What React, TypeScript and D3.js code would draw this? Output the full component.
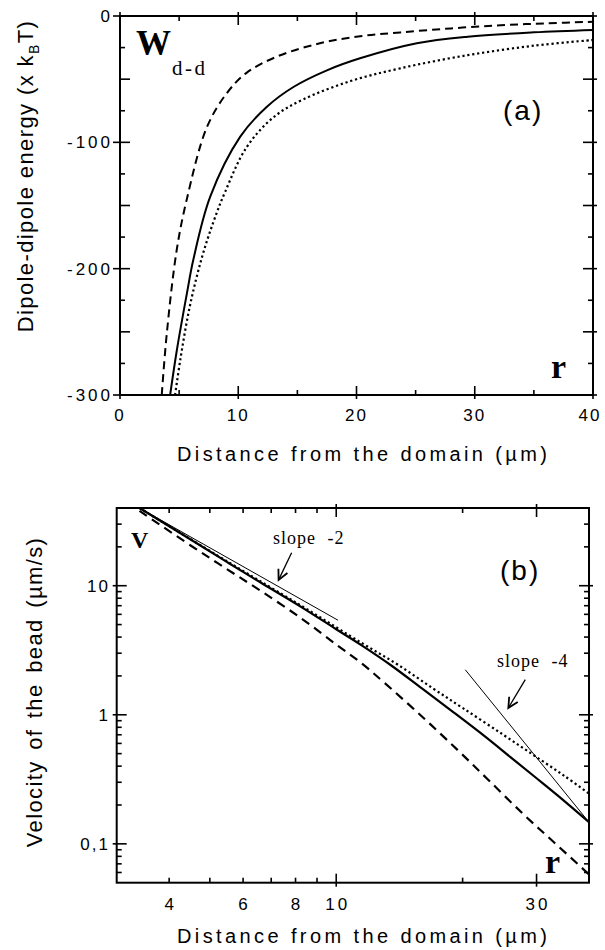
import React from 'react';
import * as d3 from 'd3';

// ---------- Panel (a): dipole-dipole energy vs distance ----------
const aXTicks = [0, 10, 20, 30, 40];
const aXMinor = [5, 15, 25, 35];
const aYTicks = [0, -100, -200, -300];
const aYTickLabels = ['0', '-100', '-200', '-300'];

const aSolidR = [4.24, 4.8, 5.65, 6.2, 7.63, 10.17, 12.4, 14.7, 17.5, 20.3, 25.1, 29.4, 35, 40];
const aSolidW = [-300, -265, -220, -193, -143, -95.5, -72, -56, -43, -33.5, -21.6, -16.4, -12.9, -11];

const aDashR = [3.53, 3.96, 4.8, 5.65, 7.35, 9.04, 10.7, 13.3, 16.9, 20.3, 23.7, 28, 32.2, 36, 40];
const aDashW = [-300, -251, -185, -145, -88, -61, -45, -32, -21.6, -16, -13, -9.8, -7.3, -5.8, -4.6];

const aDotR = [4.66, 5.1, 5.9, 6.9, 7.9, 8.9, 10.7, 13, 15.5, 19.5, 23.7, 29.4, 35, 40];
const aDotW = [-300, -272, -230, -192, -163, -139, -104, -80, -66, -51.5, -41.4, -31, -23.5, -19];

// ---------- Panel (b): velocity of the bead (log-log) ----------
const bXLabels = [4, 6, 8, 10, 30];
const bXMajor = [10, 30];
const bXMinor = [4, 5, 6, 7, 8, 9, 20];
const bYMajor = [0.1, 1, 10];
const bYLabels = ['0,1', '1', '10'];

const bSolidX = [3.4, 4.5, 5.54, 6.65, 8.28, 10, 11.5, 13.5, 16, 19, 22.6, 26, 29.8, 34, 40];
const bSolidV = [40, 22.8, 15, 10.45, 6.8, 4.6, 3.45, 2.42, 1.6, 1.05, 0.68, 0.47, 0.328, 0.231, 0.147];

const bDotX = [3.4, 5.54, 8.28, 11.5, 14, 17, 20, 25, 30, 35, 40];
const bDotV = [40, 15.2, 6.95, 3.6, 2.45, 1.6, 1.13, 0.7, 0.47, 0.335, 0.245];

const bDashX = [3.4, 4.5, 5.5, 6.65, 8.28, 10, 11.5, 13, 16, 19.5, 23.1, 28, 33, 40];
const bDashV = [38, 20.5, 13.4, 9.0, 5.55, 3.5, 2.5, 1.78, 0.97, 0.53, 0.31, 0.168, 0.103, 0.058];

const slope2X = [3.4, 10.1];
const slope2V = [40, 5.4];
const slope4X = [20.3, 40];
const slope4V = [2.23, 0.147];

const arrow2X = [7.83, 7.29];
const arrow2V = [18.0, 11.1];
const arrow4X = [28.2, 25.7];
const arrow4V = [1.87, 1.13];

const SANS = "'Liberation Sans', Arial, Helvetica, sans-serif";
const SERIF = "'Liberation Serif', 'Times New Roman', serif";

export default function App() {
  const ax = d3.scaleLinear().domain([0, 40]).range([120, 593]);
  const ay = d3.scaleLinear().domain([-300, 0]).range([395, 16]);
  const bx = d3.scaleLog().domain([3, 40]).range([116.7, 589]);
  const by = d3.scaleLog().domain([0.05, 40]).range([882.7, 508]);

  const aLine = d3
    .line<[number, number]>()
    .x((d) => ax(d[0]))
    .y((d) => ay(d[1]))
    .curve(d3.curveCatmullRom.alpha(0.5));
  const bLine = d3
    .line<[number, number]>()
    .x((d) => bx(d[0]))
    .y((d) => by(d[1]))
    .curve(d3.curveCatmullRom.alpha(0.5));
  const bStraight = d3
    .line<[number, number]>()
    .x((d) => bx(d[0]))
    .y((d) => by(d[1]));

  const zip = (xs: number[], ys: number[]) => xs.map((x, i) => [x, ys[i]] as [number, number]);

  const aL = 120, aR = 593, aT = 16, aB = 395;
  const bL = 116.7, bR = 589, bT = 508, bB = 882.7;

  const aYAll = d3.range(0, -301, -25);
  const bYMinor: number[] = [];
  [0.01, 0.1, 1, 10].forEach((d) => {
    for (let k = 2; k <= 9; k++) {
      const v = k * d;
      if (v > 0.05 && v < 40) bYMinor.push(v);
    }
  });

  const tick = { stroke: '#000', strokeWidth: 1.6 };

  return (
    <svg
      width={605}
      height={950}
      style={{ position: 'absolute', left: 0, top: 0, background: '#fff' }}
    >
      <defs>
        <clipPath id="clipA">
          <rect x={aL} y={aT} width={aR - aL} height={aB - aT} />
        </clipPath>
        <clipPath id="clipB">
          <rect x={bL} y={bT} width={bR - bL} height={bB - bT} />
        </clipPath>
        <marker
          id="arr"
          viewBox="-12 -7 14 14"
          refX={0}
          refY={0}
          markerWidth={14}
          markerHeight={14}
          markerUnits="userSpaceOnUse"
          orient="auto"
        >
          <path d="M-10,-5 L0,0 L-10,5" fill="none" stroke="#000" strokeWidth={1.8} />
        </marker>
      </defs>
      <rect x={0} y={0} width={605} height={950} fill="#fff" />

      {/* ================= Panel (a) ================= */}
      <g>
        <g clipPath="url(#clipA)" fill="none" stroke="#000">
          <path d={aLine(zip(aSolidR, aSolidW)) || ''} strokeWidth={2} />
          <path d={aLine(zip(aDashR, aDashW)) || ''} strokeWidth={2} strokeDasharray="8,5" />
          <path d={aLine(zip(aDotR, aDotW)) || ''} strokeWidth={2.2} strokeDasharray="2.2,2.8" />
        </g>
        <rect x={aL} y={aT} width={aR - aL} height={aB - aT} fill="none" stroke="#000" strokeWidth={2} />
        {aXTicks.map((t) => (
          <g key={'axt' + t}>
            <line x1={ax(t)} x2={ax(t)} y1={aB - 9} y2={aB + 4} {...tick} />
            <line x1={ax(t)} x2={ax(t)} y1={aT - 4} y2={aT + 9} {...tick} />
          </g>
        ))}
        {aXMinor.map((t) => (
          <g key={'axm' + t}>
            <line x1={ax(t)} x2={ax(t)} y1={aB - 5} y2={aB} {...tick} />
            <line x1={ax(t)} x2={ax(t)} y1={aT} y2={aT + 5} {...tick} />
          </g>
        ))}
        {aYAll.map((t) => {
          const long = t % 50 === 0;
          const major = t % 100 === 0;
          return (
            <g key={'ayt' + t}>
              <line x1={aL - (major ? 7 : 0)} x2={aL + (long ? 10 : 5)} y1={ay(t)} y2={ay(t)} {...tick} />
              <line x1={aR - (long ? 10 : 5)} x2={aR + (long ? 4 : 0)} y1={ay(t)} y2={ay(t)} {...tick} />
            </g>
          );
        })}
        {aXTicks.map((t) => (
          <text
            key={'axl' + t}
            x={t === 40 ? ax(t) - 3 : ax(t)}
            y={421}
            textAnchor="middle"
            fontFamily={SANS}
            fontSize={17}
            letterSpacing={2}
          >
            {String(t)}
          </text>
        ))}
        {aYTicks.map((t, i) => (
          <text
            key={'ayl' + t}
            x={113}
            y={ay(t) + 6}
            textAnchor="end"
            fontFamily={SANS}
            fontSize={17}
            letterSpacing={3}
          >
            {aYTickLabels[i]}
          </text>
        ))}
        <text x={362} y={461} textAnchor="middle" fontFamily={SANS} fontSize={20} textLength={370} lengthAdjust="spacing">
          Distance from the domain (µm)
        </text>
        <text
          transform="translate(33,176) rotate(-90)"
          textAnchor="middle"
          fontFamily={SANS}
          fontSize={22}
          letterSpacing={1.4}
        >
          Dipole-dipole energy (x k
          <tspan fontSize={14} dy={6}>B</tspan>
          <tspan dy={-6}>T)</tspan>
        </text>
        <text x={136} y={55} fontFamily={SERIF} fontWeight="bold" fontSize={35}>W</text>
        <text x={172} y={75} fontFamily={SERIF} fontSize={21} letterSpacing={2.5}>d-d</text>
        <text x={503} y={120} fontFamily={SANS} fontSize={28} letterSpacing={2}>(a)</text>
        <text x={551} y={378} fontFamily={SERIF} fontWeight="bold" fontSize={34}>r</text>
      </g>

      {/* ================= Panel (b) ================= */}
      <g>
        <g clipPath="url(#clipB)" fill="none" stroke="#000">
          <path d={bLine(zip(bSolidX, bSolidV)) || ''} strokeWidth={2.2} />
          <path d={bLine(zip(bDotX, bDotV)) || ''} strokeWidth={2.2} strokeDasharray="2.2,2.8" />
          <path d={bLine(zip(bDashX, bDashV)) || ''} strokeWidth={2.2} strokeDasharray="9,6" />
          <path d={bStraight(zip(slope2X, slope2V)) || ''} strokeWidth={1} />
          <path d={bStraight(zip(slope4X, slope4V)) || ''} strokeWidth={1} />
        </g>
        <rect x={bL} y={bT} width={bR - bL} height={bB - bT} fill="none" stroke="#000" strokeWidth={2} />
        {bXMajor.map((t) => (
          <g key={'bxt' + t}>
            <line x1={bx(t)} x2={bx(t)} y1={bB - 9} y2={bB + 4} {...tick} />
            <line x1={bx(t)} x2={bx(t)} y1={bT - 4} y2={bT + 9} {...tick} />
          </g>
        ))}
        {bXMinor.map((t) => (
          <g key={'bxm' + t}>
            <line x1={bx(t)} x2={bx(t)} y1={bB - 5} y2={bB} {...tick} />
            <line x1={bx(t)} x2={bx(t)} y1={bT} y2={bT + 5} {...tick} />
          </g>
        ))}
        {bYMajor.map((t) => (
          <g key={'byt' + t}>
            <line x1={bL - 4} x2={bL + 10} y1={by(t)} y2={by(t)} {...tick} />
            <line x1={bR - 10} x2={bR + 4} y1={by(t)} y2={by(t)} {...tick} />
          </g>
        ))}
        {bYMinor.map((t) => (
          <g key={'bym' + t}>
            <line x1={bL} x2={bL + 5} y1={by(t)} y2={by(t)} {...tick} />
            <line x1={bR - 5} x2={bR} y1={by(t)} y2={by(t)} {...tick} />
          </g>
        ))}
        {bXLabels.map((t) => (
          <text
            key={'bxl' + t}
            x={bx(t) + 1.5}
            y={910}
            textAnchor="middle"
            fontFamily={SANS}
            fontSize={17}
            letterSpacing={3}
          >
            {String(t)}
          </text>
        ))}
        {bYMajor.map((t, i) => (
          <text
            key={'byl' + t}
            x={110}
            y={by(t) + 6}
            textAnchor="end"
            fontFamily={SANS}
            fontSize={17}
            letterSpacing={2}
          >
            {bYLabels[i]}
          </text>
        ))}
        <text x={362} y={943} textAnchor="middle" fontFamily={SANS} fontSize={20} textLength={370} lengthAdjust="spacing">
          Distance from the domain (µm)
        </text>
        <text
          transform="translate(42,692) rotate(-90)"
          textAnchor="middle"
          fontFamily={SANS}
          fontSize={22}
          letterSpacing={1.4}
          wordSpacing={3}
        >
          Velocity of the bead (µm/s)
        </text>
        <text x={131} y={548} fontFamily={SERIF} fontWeight="bold" fontSize={24}>V</text>
        <text x={273} y={544} fontFamily={SERIF} fontSize={18} letterSpacing={1} wordSpacing={6}>slope -2</text>
        <text x={497} y={667} fontFamily={SERIF} fontSize={18} letterSpacing={1} wordSpacing={6}>slope -4</text>
        <text x={500} y={580} fontFamily={SANS} fontSize={28} letterSpacing={2}>(b)</text>
        <text x={545} y={873} fontFamily={SERIF} fontWeight="bold" fontSize={34}>r</text>
        <path
          d={bStraight(zip(arrow2X, arrow2V)) || ''}
          fill="none"
          stroke="#000"
          strokeWidth={1.3}
          markerEnd="url(#arr)"
        />
        <path
          d={bStraight(zip(arrow4X, arrow4V)) || ''}
          fill="none"
          stroke="#000"
          strokeWidth={1.3}
          markerEnd="url(#arr)"
        />
      </g>
    </svg>
  );
}
